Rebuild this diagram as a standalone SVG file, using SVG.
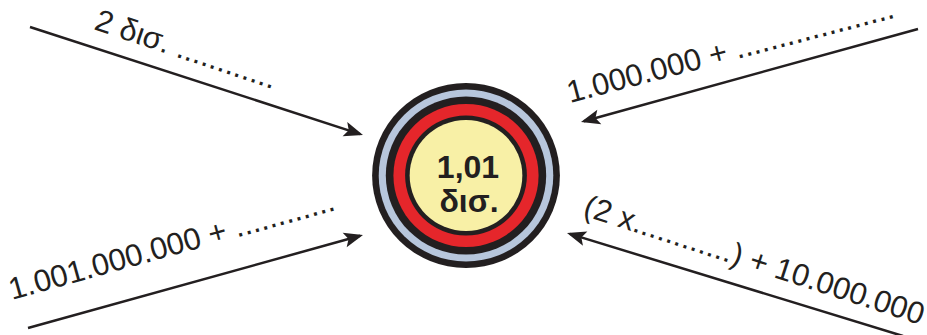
<svg xmlns="http://www.w3.org/2000/svg" width="927" height="335" viewBox="0 0 927 335">
  <style>
    .conn { stroke: #231f20; stroke-width: 2.5; fill: none; marker-end: url(#arrow); }
    .lbl { font-family: "Liberation Sans", Arial, sans-serif; font-size: 31px; fill: #231f20; }
    .num { font-family: "Liberation Sans", Arial, sans-serif; font-size: 32px; font-weight: bold; fill: #231f20; text-anchor: middle; }
  </style>
  <defs>
    <marker id="arrow" markerUnits="userSpaceOnUse" markerWidth="26" markerHeight="20" viewBox="-20 -10 26 20" refX="0" refY="0" orient="auto">
      <path d="M3,0 L-16,-7.5 L-12,0 L-16,7.5 Z" fill="#231f20"/>
    </marker>
  </defs>
  <rect width="927" height="335" fill="#ffffff"/>

  <g id="connectors">
    <line class="conn" x1="30" y1="27" x2="360.15" y2="134.07"/>
    <line class="conn" x1="918" y1="29" x2="583.89" y2="121.2"/>
    <line class="conn" x1="28" y1="328" x2="360.1" y2="235.8"/>
    <line class="conn" x1="903" y1="336" x2="569.87" y2="233.88"/>
  </g>

  <g id="labels">
    <text class="lbl" transform="translate(93,29) rotate(18.5)">2 δισ. ............</text>
    <text class="lbl" transform="translate(570,103) rotate(-14.7)">1.000.000 + ...................</text>
    <text class="lbl" transform="translate(12,300) rotate(-15.5)">1.001.000.000 + ............</text>
    <text class="lbl" transform="translate(582,215) rotate(18)">(2 x............) + 10.000.000</text>
  </g>

  <g id="center">
    <g transform="translate(466,175.5) scale(1.015,1)">
      <circle r="92.5" fill="#231f20"/>
      <circle r="86" fill="#b7c6dc"/>
      <circle r="79" fill="#231f20"/>
      <circle r="71.5" fill="#e5262b"/>
      <circle r="60" fill="#231f20"/>
      <circle r="55.5" fill="#f8f0a6"/>
    </g>
    <text class="num" x="468" y="178">1,01</text>
    <text class="num" x="469" y="212">δισ.</text>
  </g>
</svg>
